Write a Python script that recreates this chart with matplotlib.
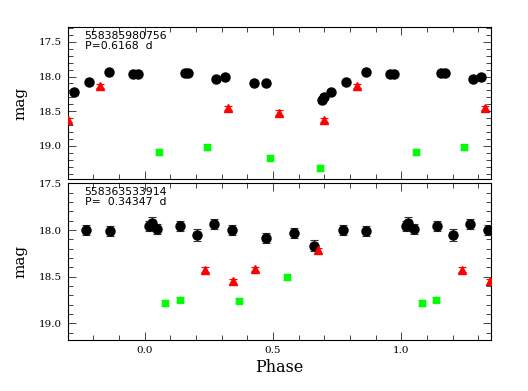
import numpy as np
import matplotlib
matplotlib.use('Agg')
import matplotlib.pyplot as plt
from matplotlib.ticker import MultipleLocator

XMIN, XMAX = -0.3, 1.35

# 上段: 558385980756 (P=0.6168 d)
top_k_phase = [0.156, 0.171, 0.278, 0.312, 0.426, 0.473, 0.692, 0.698, 0.726, 0.783, 0.861, 0.956, 0.973]
top_k_mag = [17.943, 17.947, 18.034, 18.009, 18.096, 18.096, 18.337, 18.289, 18.221, 18.073, 17.937, 17.966, 17.966]
top_k_err = [0.02, 0.02, 0.03, 0.03, 0.03, 0.03, 0.04, 0.04, 0.03, 0.03, 0.02, 0.02, 0.02]
top_r_phase = [0.326, 0.523, 0.700, 0.826]
top_r_mag = [18.450, 18.520, 18.629, 18.135]
top_r_err = [0.03, 0.03, 0.03, 0.03]
top_g_phase = [0.056, 0.243, 0.488, 0.684]
top_g_mag = [19.091, 19.014, 19.169, 19.322]
top_g_err = [0.04, 0.04, 0.04, 0.04]

# 下段: 558363533914 (P= 0.34347 d)
bot_k_phase = [0.017, 0.028, 0.048, 0.139, 0.203, 0.269, 0.339, 0.473, 0.584, 0.662, 0.773, 0.864]
bot_k_mag = [17.960, 17.927, 17.986, 17.957, 18.057, 17.936, 18.001, 18.083, 18.033, 18.166, 17.997, 18.008]
bot_k_err = [0.055, 0.065, 0.055, 0.055, 0.065, 0.05, 0.055, 0.055, 0.05, 0.06, 0.055, 0.055]
bot_r_phase = [0.236, 0.346, 0.430, 0.675]
bot_r_mag = [18.426, 18.550, 18.416, 18.217]
bot_r_err = [0.025, 0.025, 0.025, 0.025]
bot_g_phase = [0.081, 0.137, 0.367, 0.554]
bot_g_mag = [18.780, 18.745, 18.756, 18.506]
bot_g_err = [0.03, 0.03, 0.03, 0.03]

labels = ['558385980756\nP=0.6168  d', '558363533914\nP=  0.34347  d']


def plot_set(ax, phase, mag, err, fmt, color, ms, ecolor):
    # 位相を -1, 0, +1 ずらして繰り返し表示 (範囲内の点のみ)
    phase = np.asarray(phase)
    mag = np.asarray(mag)
    err = np.asarray(err)
    for s in (-1, 0, 1):
        p = phase + s
        m = (p >= XMIN - 1e-9) & (p <= XMAX + 1e-9)
        if not m.any():
            continue
        ax.errorbar(p[m], mag[m], yerr=err[m], fmt=fmt, color=color, ms=ms,
                    ecolor=ecolor, elinewidth=0.8, capsize=3, capthick=0.8,
                    mec=color, zorder=3)


def style_axis(ax, ylim):
    ax.set_xlim(XMIN, XMAX)
    ax.set_ylim(*ylim)
    ax.xaxis.set_major_locator(MultipleLocator(0.5))
    ax.xaxis.set_minor_locator(MultipleLocator(0.1))
    ax.yaxis.set_major_locator(MultipleLocator(0.5))
    ax.yaxis.set_minor_locator(MultipleLocator(0.1))
    ax.tick_params(which='both', direction='in', top=True, right=True,
                   width=0.7, color='#444444')
    ax.tick_params(which='major', length=6, labelsize=7.5, pad=4)
    ax.tick_params(which='minor', length=3.5)
    for sp in ax.spines.values():
        sp.set_linewidth(0.8)
    for t in ax.get_xticklabels() + ax.get_yticklabels():
        t.set_family('DejaVu Serif')
    ax.set_ylabel('mag', family='DejaVu Serif', fontsize=11, labelpad=8)


def main():
    fig = plt.figure(figsize=(5.28, 3.91), dpi=100)
    ax1 = fig.add_axes([0.128, 0.542, 0.802, 0.388])
    ax2 = fig.add_axes([0.128, 0.130, 0.802, 0.401])

    plot_set(ax1, top_k_phase, top_k_mag, top_k_err, 'o', 'black', 6.5, '#333333')
    plot_set(ax1, top_r_phase, top_r_mag, top_r_err, '^', 'red', 5.5, 'red')
    plot_set(ax1, top_g_phase, top_g_mag, top_g_err, 's', '#00ff00', 4.6, '#00ff00')
    style_axis(ax1, (19.48, 17.29))
    ax1.set_xticklabels([])

    plot_set(ax2, bot_k_phase, bot_k_mag, bot_k_err, 'o', 'black', 6.5, '#333333')
    plot_set(ax2, bot_r_phase, bot_r_mag, bot_r_err, '^', 'red', 5.5, 'red')
    plot_set(ax2, bot_g_phase, bot_g_mag, bot_g_err, 's', '#00ff00', 4.6, '#00ff00')
    style_axis(ax2, (19.18, 17.5))
    ax2.set_xlabel('Phase', family='DejaVu Serif', fontsize=11.5, labelpad=3)

    for ax, lab in zip((ax1, ax2), labels):
        ax.text(0.04, 0.975, lab, transform=ax.transAxes, fontsize=7.8,
                va='top', ha='left', linespacing=0.95)

    fig.savefig('out.png', dpi=100)


if __name__ == '__main__':
    main()
